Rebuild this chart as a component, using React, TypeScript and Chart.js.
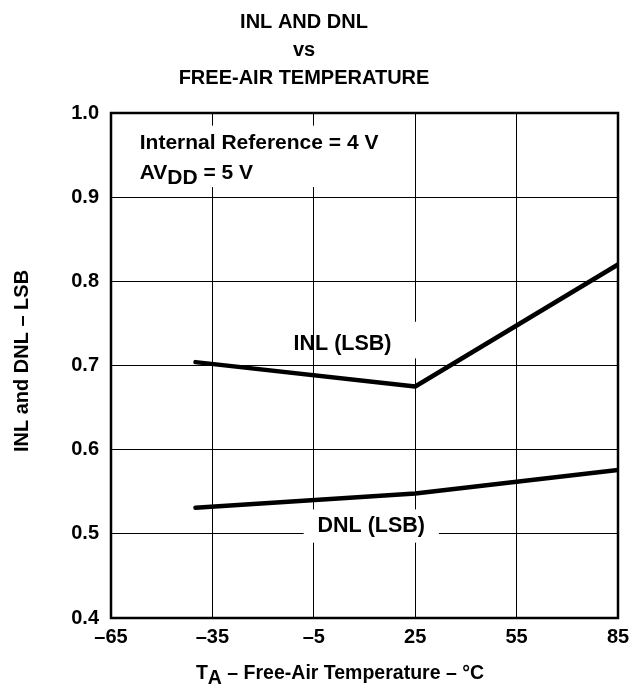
import React, { useEffect, useRef } from "react";
import { Chart, registerables } from "chart.js";

Chart.register(...registerables);

const INL_TEMPS = [-40, 25, 85];
const INL_VALUES = [0.704, 0.675, 0.82];
const DNL_TEMPS = [-40, 25, 85];
const DNL_VALUES = [0.531, 0.548, 0.576];
const X_TICKS = [-65, -35, -5, 25, 55, 85];
const Y_TICKS = [0.4, 0.5, 0.6, 0.7, 0.8, 0.9, 1.0];
const TITLE_LINES = ["INL AND DNL", "vs", "FREE-AIR TEMPERATURE"];

const FONT = '"Liberation Sans", Arial, Helvetica, sans-serif';
const FS = 20;
const LABEL_FS = 21.5;

function drawSub(ctx: CanvasRenderingContext2D, parts: [string, boolean][], x: number, y: number, size: number, align: "left" | "center") {
  ctx.font = `bold ${size}px ${FONT}`;
  let total = 0;
  for (const [t] of parts) total += ctx.measureText(t).width;
  let cx = align === "center" ? x - total / 2 : x;
  ctx.textAlign = "left";
  ctx.textBaseline = "middle";
  for (const [t, sub] of parts) {
    ctx.fillText(t, cx, sub ? y + 5 : y);
    cx += ctx.measureText(t).width;
  }
}

const annotations = {
  id: "annotations",
  beforeDatasetsDraw(chart: any) {
    const ctx = chart.ctx as CanvasRenderingContext2D;
    const xs = chart.scales.x;
    const ys = chart.scales.y;
    ctx.save();
    ctx.fillStyle = "#fff";
    const boxes = [
      [-53, 0.985, -4, 0.912],
      [-0.5, 0.752, 31.5, 0.7085],
      [-8, 0.529, 32, 0.4895],
    ];
    for (const [x0, y0, x1, y1] of boxes) {
      const px0 = xs.getPixelForValue(x0);
      const px1 = xs.getPixelForValue(x1);
      const py0 = ys.getPixelForValue(y0);
      const py1 = ys.getPixelForValue(y1);
      ctx.fillRect(px0, py0, px1 - px0, py1 - py0);
    }
    ctx.fillStyle = "#000";
    const lx = xs.getPixelForValue(-56.5);
    drawSub(ctx, [["Internal Reference = 4 V", false]], lx, ys.getPixelForValue(0.964), 21, "left");
    drawSub(ctx, [["AV", false], ["DD", true], [" = 5 V", false]], lx, ys.getPixelForValue(0.929), 21, "left");
    drawSub(ctx, [["INL (LSB)", false]], xs.getPixelForValue(3.5), ys.getPixelForValue(0.726), LABEL_FS, "center");
    drawSub(ctx, [["DNL (LSB)", false]], xs.getPixelForValue(12), ys.getPixelForValue(0.509), LABEL_FS, "center");
    ctx.restore();
  },
  afterDraw(chart: any) {
    const ctx = chart.ctx as CanvasRenderingContext2D;
    const a = chart.chartArea;
    ctx.save();
    ctx.strokeStyle = "#000";
    ctx.lineWidth = 2.5;
    ctx.strokeRect(a.left, a.top, a.right - a.left, a.bottom - a.top);
    ctx.fillStyle = "#000";
    ctx.textAlign = "center";
    ctx.textBaseline = "middle";
    ctx.font = `bold ${FS}px ${FONT}`;
    const ty = [22, 50, 78];
    TITLE_LINES.forEach((t, i) => ctx.fillText(t, 304, ty[i]));
    drawSub(ctx, [["T", false], ["A", true], [" \u2013 Free-Air Temperature \u2013 \u00b0C", false]], 340, 674, 19.5, "center");
    ctx.translate(22, 361);
    ctx.rotate(-Math.PI / 2);
    ctx.textAlign = "center";
    ctx.textBaseline = "middle";
    ctx.font = `bold 20px ${FONT}`;
    ctx.fillText("INL and DNL \u2013 LSB", 0, 0);
    ctx.restore();
  },
};

export default function App() {
  const ref = useRef<HTMLCanvasElement>(null);
  useEffect(() => {
    if (!ref.current) return;
    const chart = new Chart(ref.current, {
      type: "line",
      data: {
        datasets: [
          {
            label: "INL (LSB)",
            data: INL_TEMPS.map((t, i) => ({ x: t, y: INL_VALUES[i] })),
            borderColor: "#000",
            borderWidth: 4.5,
            pointRadius: 0,
            borderCapStyle: "round",
            borderJoinStyle: "round",
            tension: 0,
          },
          {
            label: "DNL (LSB)",
            data: DNL_TEMPS.map((t, i) => ({ x: t, y: DNL_VALUES[i] })),
            borderColor: "#000",
            borderWidth: 4.5,
            pointRadius: 0,
            borderCapStyle: "round",
            borderJoinStyle: "round",
            tension: 0,
          },
        ],
      },
      options: {
        responsive: false,
        animation: false,
        layout: { padding: { top: 113, right: 12, left: 0, bottom: 0 } },
        plugins: { legend: { display: false }, tooltip: { enabled: false }, title: { display: false } },
        scales: {
          x: {
            type: "linear",
            min: -65,
            max: 85,
            afterBuildTicks: (s: any) => {
              s.ticks = X_TICKS.map((v) => ({ value: v }));
            },
            afterFit: (s: any) => {
              s.height = 67;
              s.paddingLeft = 0;
              s.paddingRight = 0;
            },
            ticks: {
              color: "#000",
              font: { family: FONT, size: FS, weight: "bold" },
              padding: 7,
              maxRotation: 0,
              callback: (v: any) => (v < 0 ? "\u2013" + Math.abs(v) : String(v)),
            },
            grid: { color: "#000", lineWidth: 1, drawTicks: false },
            border: { display: false },
          },
          y: {
            type: "linear",
            min: 0.4,
            max: 1.0,
            afterBuildTicks: (s: any) => {
              s.ticks = Y_TICKS.map((v) => ({ value: v }));
            },
            afterFit: (s: any) => {
              s.width = 111;
              s.paddingTop = 0;
              s.paddingBottom = 0;
            },
            ticks: {
              color: "#000",
              font: { family: FONT, size: FS, weight: "bold" },
              padding: 12,
              callback: (v: any) => Number(v).toFixed(1),
            },
            grid: { color: "#000", lineWidth: 1, drawTicks: false },
            border: { display: false },
          },
        },
      },
      plugins: [annotations],
    } as any);
    return () => chart.destroy();
  }, []);
  return (
    <div style={{ position: "fixed", left: 0, top: 0, width: 630, height: 685, background: "#fff" }}>
      <canvas ref={ref} width={630} height={685} />
    </div>
  );
}
